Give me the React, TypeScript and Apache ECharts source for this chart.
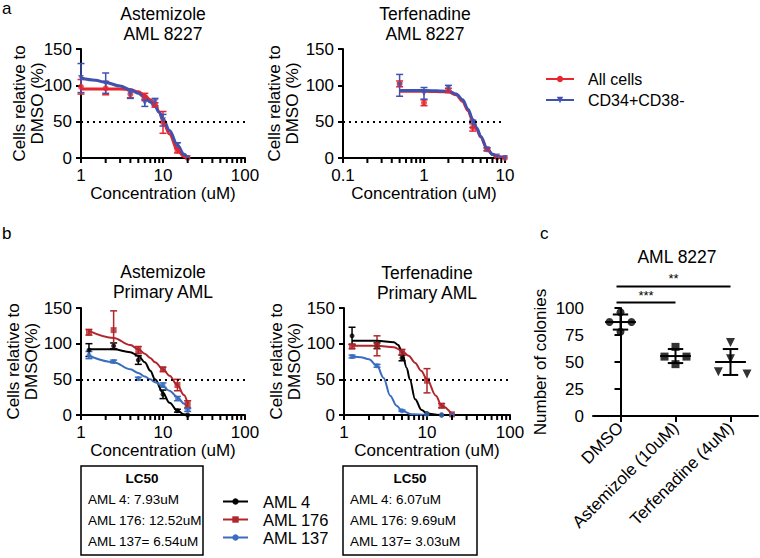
import React, { useEffect, useRef } from 'react';
import * as echarts from 'echarts';

const FONT = '"Liberation Sans", Arial, Helvetica, sans-serif';

// ---------- Panel a: AML 8227 ----------
const astDoses = [1, 2, 4, 6, 8, 10, 15, 20];
const astAllMean = [98, 96, 88, 84, 73, 49, 10, 0];
const astAllErr = [10, 9, 5, 5, 3, 15, 3, 0];
const astCdMean = [110, 103, 88, 76, 77, 52, 18, 0];
const astCdErr = [20, 14, 6, 5, 5, 8, 3, 0];
const astFitX = [1, 1.5, 2, 3, 4, 5, 6, 7, 8, 9, 10, 12, 15, 18, 20];
const astAllFit = [95, 95, 95, 95, 94, 91, 86, 80, 73, 63, 51, 33, 11, 2, 0];
const astCdFit = [110, 107, 104, 99, 94, 89, 83, 77, 71, 63, 54, 38, 18, 5, 0];

const terDoses = [0.5, 1, 2, 4, 6, 8, 10];
const terAllMean = [102, 76, 93, 42, 12, 1, 0];
const terAllErr = [4, 4, 3, 5, 2, 0, 0];
const terCdMean = [100, 89, 96, 47, 12, 2, 0];
const terCdErr = [15, 8, 4, 5, 2, 0, 0];
const terFitX = [0.5, 1, 2, 2.5, 3, 3.5, 4, 4.5, 5, 6, 7, 8, 10];
const terAllFit = [92, 92, 91, 87, 78, 65, 51, 39, 29, 13, 5, 2, 0];
const terCdFit = [93, 93, 92, 88, 80, 67, 53, 41, 30, 13, 5, 2, 0];

// ---------- Panel b: primary AML ----------
const primDoses = [1.25, 2.5, 5, 10, 15, 20];
const aml4Ast = [91, 97, 77, 29, 6, 0];
const aml4AstErr = [9, 4, 6, 6, 2, 0];
const aml176Ast = [116, 119, 91, 64, 42, 15];
const aml176AstErr = [4, 27, 5, 3, 8, 5];
const aml137Ast = [84, 75, 51, 42, 23, 7];
const aml137AstErr = [5, 2, 2, 3, 3, 2];
const primAstFitX = [1.25, 2.5, 4, 5, 6, 7, 8, 10, 12, 15, 18, 20];
const aml4AstFit = [92, 92, 88, 83, 74, 62, 50, 31, 17, 6, 1, 0];
const aml176AstFit = [118, 108, 98, 92, 86, 80, 74, 64, 55, 42, 28, 16];
const aml137AstFit = [83, 74, 64, 59, 54, 50, 46, 40, 34, 25, 16, 9];

const aml4Ter = [111, 97, 80, 2, 0, 0];
const aml4TerErr = [12, 4, 4, 0, 0, 0];
const aml176Ter = [96, 97, 88, 48, 13, 1];
const aml176TerErr = [3, 14, 4, 17, 3, 0];
const aml137Ter = [82, 69, 6, 1, 0, 0];
const aml137TerErr = [2, 2, 1, 0, 0, 0];
const aml4TerFitX = [1.25, 2.5, 4, 4.5, 5, 5.7, 6.2, 7.2, 8.6, 10, 14, 20];
const aml4TerFit = [104, 104, 102, 98, 88, 66, 50, 22, 7, 2, 0, 0];
const aml176TerFitX = [1.25, 2.5, 4, 5, 6, 7.2, 8.5, 10, 12.8, 15, 20];
const aml176TerFit = [97, 97, 95, 90, 83, 73, 62, 50, 27, 13, 1];
const aml137TerFitX = [1.25, 1.6, 2, 2.5, 3, 3.6, 4.3, 5, 6.6, 10];
const aml137TerFit = [82, 81, 78, 69, 52, 27, 13, 6, 1, 0];

const lc50Ast = ['AML 4: 7.93uM', 'AML 176: 12.52uM', 'AML 137= 6.54uM'];
const lc50Ter = ['AML 4: 6.07uM', 'AML 176: 9.69uM', 'AML 137= 3.03uM'];

// ---------- Panel c: colonies ----------
const colonyGroups = ['DMSO', 'Astemizole (10uM)', 'Terfenadine (4uM)'];
const dmsoColonies = [87, 96, 87, 78];
const astColonies = [55, 64, 55, 48];
const terColonies = [68, 53, 41, 39];
const dmsoJitter = [-0.2, 0, 0.2, 0];
const astJitter = [-0.2, 0, 0.2, 0];
const terJitter = [0, 0, -0.22, 0.3];
const colonyMean = [87, 55.5, 50];
const colonySd = [7, 6.5, 12];
const sigFrom = [0, 0];
const sigTo = [1, 2];
const sigLevel = [105, 120];
const sigLabels = ['***', '**'];

// axis ticks
const yDoseTicks = [0, 150, 50];
const yColonyTicks = [0, 100, 25];
const minorTicks1to100 = [2, 3, 4, 5, 6, 7, 8, 9, 20, 30, 40, 50, 60, 70, 80, 90];
const minorTicks01to10 = [0.2, 0.3, 0.4, 0.5, 0.6, 0.7, 0.8, 0.9, 2, 3, 4, 5, 6, 7, 8, 9];

const RED_A = '#e8262d';
const BLUE_A = '#4152ae';
const BLACK = '#000000';
const RED_B = '#b0262b';
const BLUE_B = '#3a6dbf';

const zip = (xs: number[], ys: number[]) => xs.map((x, i) => [x, ys[i]]);
const zip3 = (xs: number[], ys: number[], es: number[]) => xs.map((x, i) => [x, ys[i], es[i]]);

const errRender = (params: any, api: any) => {
  const x = api.value(0), y = api.value(1), e = api.value(2);
  if (!e) return { type: 'group', children: [] };
  const top = api.coord([x, y + e]);
  const bot = api.coord([x, y - e]);
  const hw = 3.5;
  const style = { stroke: api.visual('color'), lineWidth: 1.5 };
  return {
    type: 'group',
    children: [
      { type: 'line', shape: { x1: top[0], y1: top[1], x2: bot[0], y2: bot[1] }, style },
      { type: 'line', shape: { x1: top[0] - hw, y1: top[1], x2: top[0] + hw, y2: top[1] }, style },
      { type: 'line', shape: { x1: bot[0] - hw, y1: bot[1], x2: bot[0] + hw, y2: bot[1] }, style },
    ],
  };
};

// minor log ticks drawn as a custom series, placed through the axis' own log scale
const makeMinorTickRender = (color: string, len: number) => (params: any, api: any) => {
  const p = api.coord([api.value(0), api.value(1)]);
  return {
    type: 'group',
    children: [
      {
        type: 'rect',
        shape: { x: p[0] - 1, y: p[1], width: 2, height: len },
        style: { fill: color },
      },
    ],
  };
};

const meanSdRender = (params: any, api: any) => {
  const i = api.value(0), m = api.value(1), s = api.value(2);
  const c = api.coord([i, m]);
  const t = api.coord([i, m + s]);
  const b = api.coord([i, m - s]);
  const unit = api.size([1, 0])[0];
  const mw = unit * 0.28, cw = unit * 0.14;
  const style = { stroke: '#000', lineWidth: 2 };
  return {
    type: 'group',
    children: [
      { type: 'line', shape: { x1: t[0], y1: t[1], x2: b[0], y2: b[1] }, style },
      { type: 'line', shape: { x1: c[0] - mw, y1: c[1], x2: c[0] + mw, y2: c[1] }, style },
      { type: 'line', shape: { x1: t[0] - cw, y1: t[1], x2: t[0] + cw, y2: t[1] }, style },
      { type: 'line', shape: { x1: b[0] - cw, y1: b[1], x2: b[0] + cw, y2: b[1] }, style },
    ],
  };
};

const sigRender = (params: any, api: any) => {
  const a = api.coord([api.value(0), api.value(2)]);
  const b = api.coord([api.value(1), api.value(2)]);
  return {
    type: 'group',
    children: [
      { type: 'line', shape: { x1: a[0] - 4, y1: a[1], x2: b[0], y2: b[1] }, style: { stroke: '#000', lineWidth: 2 } },
      {
        type: 'text',
        x: (a[0] - 4 + b[0]) / 2,
        y: a[1] - 1,
        style: {
          text: sigLabels[params.dataIndex],
          textAlign: 'center', align: 'center',
          textVerticalAlign: 'bottom', verticalAlign: 'bottom',
          font: `13px ${FONT}`, fill: '#000',
        },
      },
    ],
  };
};

const axisLineStyle = { color: '#000', width: 2 };

function logXAxis(gi: number, min: number, max: number) {
  return {
    type: 'log', logBase: 10, gridIndex: gi, min, max,
    axisLine: { lineStyle: axisLineStyle },
    axisTick: { show: true, length: 5, lineStyle: { color: '#000', width: 2 } },
    axisLabel: { color: '#000', fontSize: 17, fontFamily: FONT, margin: 9 },
    splitLine: { show: false },
    name: 'Concentration (uM)', nameLocation: 'middle', nameGap: 27, nameMoveOverlap: false,
    nameTextStyle: { color: '#000', fontSize: 17, fontFamily: FONT },
  };
}

function doseYAxis(gi: number, name: string, gap: number) {
  return {
    type: 'value', gridIndex: gi, min: yDoseTicks[0], max: yDoseTicks[1], interval: yDoseTicks[2],
    axisLine: { show: true, lineStyle: axisLineStyle },
    axisTick: { show: true, length: 5, lineStyle: { color: '#000', width: 2 } },
    axisLabel: { color: '#000', fontSize: 17, fontFamily: FONT, margin: 9 },
    splitLine: { show: false },
    name, nameLocation: 'middle', nameGap: gap, nameMoveOverlap: false,
    nameTextStyle: { color: '#000', fontSize: 17, fontFamily: FONT, lineHeight: 18 },
  };
}

function doseSeries(gi: number, name: string, color: string, symbol: string, symbolSize: number, lw: number,
  fitX: number[], fitY: number[], dx: number[], dy: number[], de: number[], rotate = 0, withRef = false) {
  const line: any = {
    type: 'line', name, xAxisIndex: gi, yAxisIndex: gi, data: zip(fitX, fitY),
    smooth: 0.35, smoothMonotone: 'x', showSymbol: false, symbol, symbolSize, symbolRotate: rotate,
    color, lineStyle: { color, width: lw }, itemStyle: { color }, z: 3, silent: true,
  };
  if (withRef) {
    line.markLine = {
      silent: true, symbol: 'none', label: { show: false },
      lineStyle: { color: '#000', type: [2, 4], width: 2 },
      data: [{ yAxis: 50 }],
    };
  }
  return [
    line,
    {
      type: 'custom', name, xAxisIndex: gi, yAxisIndex: gi, renderItem: errRender,
      data: zip3(dx, dy, de), encode: { x: 0, y: 1 }, color, itemStyle: { color }, z: 2, clip: false, silent: true,
    },
    {
      type: 'scatter', name, xAxisIndex: gi, yAxisIndex: gi, data: zip(dx, dy),
      symbol, symbolSize, symbolRotate: rotate, color, itemStyle: { color }, z: 4, silent: true,
    },
  ];
}

function minorSeries(gi: number, ticks: number[]) {
  return {
    type: 'custom', name: 'minorTicks' + gi, xAxisIndex: gi, yAxisIndex: gi,
    renderItem: makeMinorTickRender('#000000', 5),
    data: ticks.map((t) => [t, 0]), encode: { x: 0, y: 1 }, clip: false, silent: true, z: 6,
  };
}

const titleText = (x: number, y: number, text: string) => ({
  type: 'text', x, y, silent: true,
  style: { text, font: `17.5px ${FONT}`, fill: '#000', textAlign: 'center', align: 'center', textVerticalAlign: 'top', verticalAlign: 'top', lineHeight: 20 },
});
const plainText = (x: number, y: number, text: string, font: string, align = 'left') => ({
  type: 'text', x, y, silent: true,
  style: { text, font, fill: '#000', textAlign: align, align, textVerticalAlign: 'middle', verticalAlign: 'middle' },
});
const lcBox = (x: number, w: number, lines: string[]) => ({
  type: 'group',
  children: [
    { type: 'rect', shape: { x, y: 466, width: w, height: 89 }, style: { fill: 'none', stroke: '#000', lineWidth: 1.5 } },
    plainText(x + w / 2, 478, 'LC50', `bold 13.5px ${FONT}`, 'center'),
    ...lines.map((t, i) => plainText(x + 7, 499 + i * 21, t, `13.5px ${FONT}`)),
  ],
});

function buildOption(): any {
  const grids = [
    { left: 81, top: 49, width: 164, height: 109 },
    { left: 343, top: 49, width: 162, height: 109 },
    { left: 81, top: 308, width: 164, height: 107 },
    { left: 344, top: 308, width: 166, height: 107 },
    { left: 593, top: 308, width: 165, height: 108 },
  ];

  const xAxis: any[] = [
    logXAxis(0, 1, 100),
    logXAxis(1, 0.1, 10),
    logXAxis(2, 1, 100),
    logXAxis(3, 1, 100),
    {
      type: 'category', gridIndex: 4, data: colonyGroups, boundaryGap: true,
      axisLine: { lineStyle: axisLineStyle },
      axisTick: { show: true, alignWithLabel: true, length: 6, lineStyle: { color: '#000', width: 2 } },
      axisLabel: { color: '#000', fontSize: 17, fontFamily: FONT, rotate: 45, margin: 9, interval: 0 },
    },
    { type: 'value', gridIndex: 4, min: -0.5, max: 2.5, show: false },
  ];

  const yAxis: any[] = [
    doseYAxis(0, 'Cells relative to\nDMSO (%)', 35),
    doseYAxis(1, 'Cells relative to\nDMSO (%)', 42),
    doseYAxis(2, 'Cells relative to\nDMSO(%)', 41),
    doseYAxis(3, 'Cells relative to\nDMSO(%)', 41),
    {
      type: 'value', gridIndex: 4, min: yColonyTicks[0], max: yColonyTicks[1], interval: yColonyTicks[2],
      axisLine: { show: true, lineStyle: axisLineStyle },
      axisTick: { show: true, length: 6, lineStyle: { color: '#000', width: 2 } },
      axisLabel: { color: '#000', fontSize: 17, fontFamily: FONT, margin: 9 },
      splitLine: { show: false },
      name: 'Number of colonies', nameLocation: 'middle', nameGap: 44, nameMoveOverlap: false,
      nameTextStyle: { color: '#000', fontSize: 17, fontFamily: FONT },
    },
  ];

  const series: any[] = [
    ...doseSeries(0, 'All cells', RED_A, 'circle', 6, 3, astFitX, astAllFit, astDoses, astAllMean, astAllErr, 0, true),
    ...doseSeries(0, 'CD34+CD38-', BLUE_A, 'triangle', 6, 3, astFitX, astCdFit, astDoses, astCdMean, astCdErr, 180),
    ...doseSeries(1, 'All cells', RED_A, 'circle', 6, 3, terFitX, terAllFit, terDoses, terAllMean, terAllErr, 0, true),
    ...doseSeries(1, 'CD34+CD38-', BLUE_A, 'triangle', 6, 3, terFitX, terCdFit, terDoses, terCdMean, terCdErr, 180),
    ...doseSeries(2, 'AML 4', BLACK, 'circle', 5, 2, primAstFitX, aml4AstFit, primDoses, aml4Ast, aml4AstErr, 0, true),
    ...doseSeries(2, 'AML 176', RED_B, 'rect', 6, 2, primAstFitX, aml176AstFit, primDoses, aml176Ast, aml176AstErr),
    ...doseSeries(2, 'AML 137', BLUE_B, 'circle', 5, 2, primAstFitX, aml137AstFit, primDoses, aml137Ast, aml137AstErr),
    ...doseSeries(3, 'AML 4', BLACK, 'circle', 5, 2, aml4TerFitX, aml4TerFit, primDoses, aml4Ter, aml4TerErr, 0, true),
    ...doseSeries(3, 'AML 176', RED_B, 'rect', 6, 2, aml176TerFitX, aml176TerFit, primDoses, aml176Ter, aml176TerErr),
    ...doseSeries(3, 'AML 137', BLUE_B, 'circle', 5, 2, aml137TerFitX, aml137TerFit, primDoses, aml137Ter, aml137TerErr),
    minorSeries(0, minorTicks1to100),
    minorSeries(1, minorTicks01to10),
    minorSeries(2, minorTicks1to100),
    minorSeries(3, minorTicks1to100),
    {
      type: 'scatter', xAxisIndex: 5, yAxisIndex: 4, symbol: 'circle', symbolSize: 8,
      itemStyle: { color: '#000' }, data: dmsoColonies.map((v, i) => [0 + dmsoJitter[i], v]), silent: true, z: 4,
    },
    {
      type: 'scatter', xAxisIndex: 5, yAxisIndex: 4, symbol: 'rect', symbolSize: 8,
      itemStyle: { color: '#000' }, data: astColonies.map((v, i) => [1 + astJitter[i], v]), silent: true, z: 4,
    },
    {
      type: 'scatter', xAxisIndex: 5, yAxisIndex: 4, symbol: 'triangle', symbolRotate: 180, symbolSize: 9,
      itemStyle: { color: '#000' }, data: terColonies.map((v, i) => [2 + terJitter[i], v]), silent: true, z: 4,
    },
    {
      type: 'custom', xAxisIndex: 5, yAxisIndex: 4, renderItem: meanSdRender, clip: false, silent: true, z: 3,
      data: colonyMean.map((m, i) => [i, m, colonySd[i]]), encode: { x: 0, y: 1 },
    },
    {
      type: 'custom', xAxisIndex: 5, yAxisIndex: 4, renderItem: sigRender, clip: false, silent: true, z: 3,
      data: sigFrom.map((f, i) => [f, sigTo[i], sigLevel[i]]), encode: { x: [0, 1], y: 2 },
    },
  ];

  const legend = [
    {
      data: ['All cells', 'CD34+CD38-'], left: 540, top: 66, orient: 'vertical', selectedMode: false,
      itemWidth: 28, itemHeight: 8, itemGap: 5,
      textStyle: { color: '#000', fontSize: 16, fontFamily: FONT, padding: [0, 0, 0, 9] },
    },
    {
      data: ['AML 4', 'AML 176', 'AML 137'], left: 217, top: 488, orient: 'vertical', selectedMode: false,
      itemWidth: 25, itemHeight: 8, itemGap: 1,
      textStyle: { color: '#000', fontSize: 16.5, lineHeight: 16.5, fontFamily: FONT, padding: [0, 0, 0, 10] },
    },
  ];

  const graphic = [
    plainText(2, 8, 'a', `17px ${FONT}`),
    plainText(2, 233, 'b', `17px ${FONT}`),
    plainText(540, 233, 'c', `17px ${FONT}`),
    titleText(163, 4, 'Astemizole\nAML 8227'),
    titleText(425, 4, 'Terfenadine\nAML 8227'),
    titleText(163, 262, 'Astemizole\nPrimary AML'),
    titleText(427, 263, 'Terfenadine\nPrimary AML'),
    titleText(677, 247, 'AML 8227'),
    lcBox(81, 122, lc50Ast),
    lcBox(343, 134, lc50Ter),
  ];

  return {
    animation: false,
    backgroundColor: '#ffffff',
    textStyle: { fontFamily: FONT },
    grid: grids,
    xAxis, yAxis, series, legend, graphic,
  };
}

export default function App() {
  const ref = useRef<HTMLDivElement>(null);
  useEffect(() => {
    document.body.style.margin = '0';
    const chart = echarts.init(ref.current!, null, { renderer: 'svg' });
    chart.setOption(buildOption());
    return () => chart.dispose();
  }, []);
  return <div ref={ref} style={{ width: 760, height: 558 }} />;
}
